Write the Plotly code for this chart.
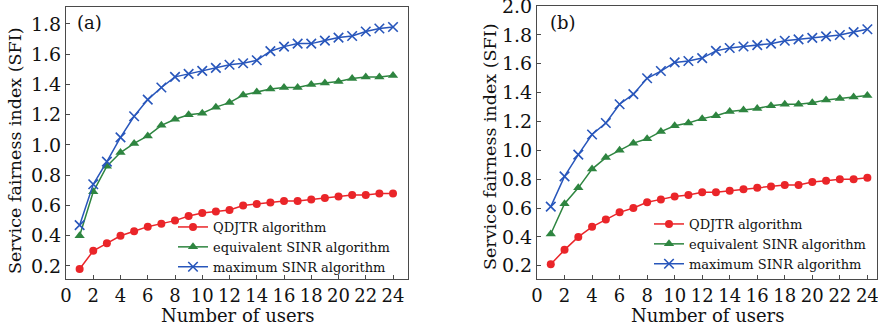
import plotly.graph_objects as go

users = list(range(1, 25))

# Panel (a)
a_qdjtr = [0.18, 0.30, 0.35, 0.40, 0.43, 0.46, 0.48, 0.50, 0.53, 0.55, 0.56, 0.57,
           0.60, 0.61, 0.62, 0.63, 0.63, 0.64, 0.65, 0.66, 0.67, 0.67, 0.68, 0.68]
a_equiv = [0.40, 0.69, 0.86, 0.95, 1.01, 1.06, 1.13, 1.17, 1.20, 1.21, 1.25, 1.28,
           1.33, 1.35, 1.37, 1.38, 1.38, 1.40, 1.41, 1.42, 1.44, 1.45, 1.45, 1.46]
a_max = [0.47, 0.74, 0.89, 1.05, 1.19, 1.30, 1.38, 1.45, 1.47, 1.49, 1.51, 1.53,
         1.54, 1.56, 1.62, 1.65, 1.67, 1.67, 1.69, 1.71, 1.72, 1.75, 1.77, 1.78]

# Panel (b)
b_qdjtr = [0.21, 0.31, 0.40, 0.47, 0.52, 0.57, 0.60, 0.64, 0.66, 0.68, 0.69, 0.71,
           0.71, 0.72, 0.73, 0.74, 0.75, 0.76, 0.76, 0.78, 0.79, 0.80, 0.80, 0.81]
b_equiv = [0.42, 0.63, 0.74, 0.87, 0.95, 1.00, 1.05, 1.08, 1.13, 1.17, 1.19, 1.22,
           1.24, 1.27, 1.28, 1.29, 1.31, 1.32, 1.32, 1.33, 1.35, 1.36, 1.37, 1.38]
b_max = [0.61, 0.82, 0.97, 1.11, 1.19, 1.32, 1.39, 1.50, 1.55, 1.61, 1.62, 1.64,
         1.69, 1.71, 1.72, 1.73, 1.74, 1.76, 1.77, 1.78, 1.79, 1.80, 1.82, 1.84]

series_names = ["QDJTR algorithm", "equivalent SINR algorithm", "maximum SINR algorithm"]
x_tick_vals = list(range(0, 25, 2))
a_y_ticks = [0.2, 0.4, 0.6, 0.8, 1.0, 1.2, 1.4, 1.6, 1.8]
b_y_ticks = [0.2, 0.4, 0.6, 0.8, 1.0, 1.2, 1.4, 1.6, 1.8, 2.0]

RED = "#ea2529"
GREEN = "#2e8540"
BLUE = "#2856bb"
FONT = "DejaVu Serif"
FRAME = "#4a4a4a"

styles = [
    dict(color=RED, symbol="circle", size=8),
    dict(color=GREEN, symbol="triangle-up", size=9),
    dict(color=BLUE, symbol="x-thin", size=9.5),
]

fig = go.Figure()

for data, xa, ya, leg in [
    ((a_qdjtr, a_equiv, a_max), "x", "y", "legend"),
    ((b_qdjtr, b_equiv, b_max), "x2", "y2", "legend2"),
]:
    for name, vals, st in zip(series_names, data, styles):
        marker = dict(color=st["color"], symbol=st["symbol"], size=st["size"])
        if st["symbol"] == "x-thin":
            marker["line"] = dict(color=st["color"], width=1.6)
        fig.add_trace(go.Scatter(
            x=users, y=vals, name=name,
            mode="lines+markers",
            line=dict(color=st["color"], width=1.5),
            marker=marker, xaxis=xa, yaxis=ya, legend=leg,
        ))

axis_common = dict(
    showgrid=False, zeroline=False, showline=True, mirror=True,
    linecolor=FRAME, linewidth=1.2, ticks="inside", ticklen=4,
    tickcolor=FRAME, tickwidth=1, automargin=False, tickangle=0,
    ticklabeloverflow="allow",
)
x_font = dict(family=FONT, size=18, color="#111")
y_font = dict(family=FONT, size=19, color="#111")

legend_common = dict(xanchor="left", yanchor="top", bgcolor="rgba(0,0,0,0)",
                     font=dict(family=FONT, size=13, color="#111"),
                     tracegroupgap=0, itemwidth=30)

fig.update_layout(
    width=878, height=328,
    margin=dict(l=0, r=0, t=0, b=0),
    paper_bgcolor="white", plot_bgcolor="white",
    font=dict(family=FONT, color="#111"),
    xaxis=dict(domain=[66/878, 408/878], range=[0, 25.1], tickvals=x_tick_vals, anchor="y",
               tickfont=x_font, **axis_common),
    yaxis=dict(domain=[49/328, 321/328], range=[0.114, 1.912], tickvals=a_y_ticks,
               tickformat=".1f", anchor="x", tickfont=y_font, **axis_common),
    xaxis2=dict(domain=[537/878, 877/878], range=[0, 24.7], tickvals=x_tick_vals, anchor="y2",
                tickfont=x_font, **axis_common),
    yaxis2=dict(domain=[49/328, 322/328], range=[0.108, 2.001], tickvals=b_y_ticks,
                tickformat=".1f", anchor="x2", tickfont=y_font, **axis_common),
    legend=dict(x=173/878, y=1 - 212/328, **legend_common),
    legend2=dict(x=649/878, y=1 - 209/328, **legend_common),
    showlegend=True,
)

annotations = [
    dict(text="(a)", x=75/878, y=1 - 23/328, xref="paper", yref="paper",
         xanchor="left", yanchor="middle", showarrow=False, font=dict(family=FONT, size=18)),
    dict(text="(b)", x=548/878, y=1 - 23/328, xref="paper", yref="paper",
         xanchor="left", yanchor="middle", showarrow=False, font=dict(family=FONT, size=18)),
    dict(text="Number of users", x=(66 + 408) / 2 / 878, y=1 - 315/328, xref="paper", yref="paper",
         xanchor="center", yanchor="middle", showarrow=False, font=dict(family=FONT, size=18)),
    dict(text="Number of users", x=(537 + 877) / 2 / 878, y=1 - 315/328, xref="paper", yref="paper",
         xanchor="center", yanchor="middle", showarrow=False, font=dict(family=FONT, size=18)),
    dict(text="Service fairness index (SFI)", x=15/878, y=1 - 151/328, xref="paper", yref="paper",
         xanchor="center", yanchor="middle", textangle=-90, showarrow=False, font=dict(family=FONT, size=17.5)),
    dict(text="Service fairness index (SFI)", x=490/878, y=1 - 147/328, xref="paper", yref="paper",
         xanchor="center", yanchor="middle", textangle=-90, showarrow=False, font=dict(family=FONT, size=17.5)),
]
fig.update_layout(annotations=annotations)

# remove the default page margin so the figure sits at the window's top-left corner
fig.write_html("out.html", config={"displayModeBar": False},
               post_script="document.body.style.margin='0';")
